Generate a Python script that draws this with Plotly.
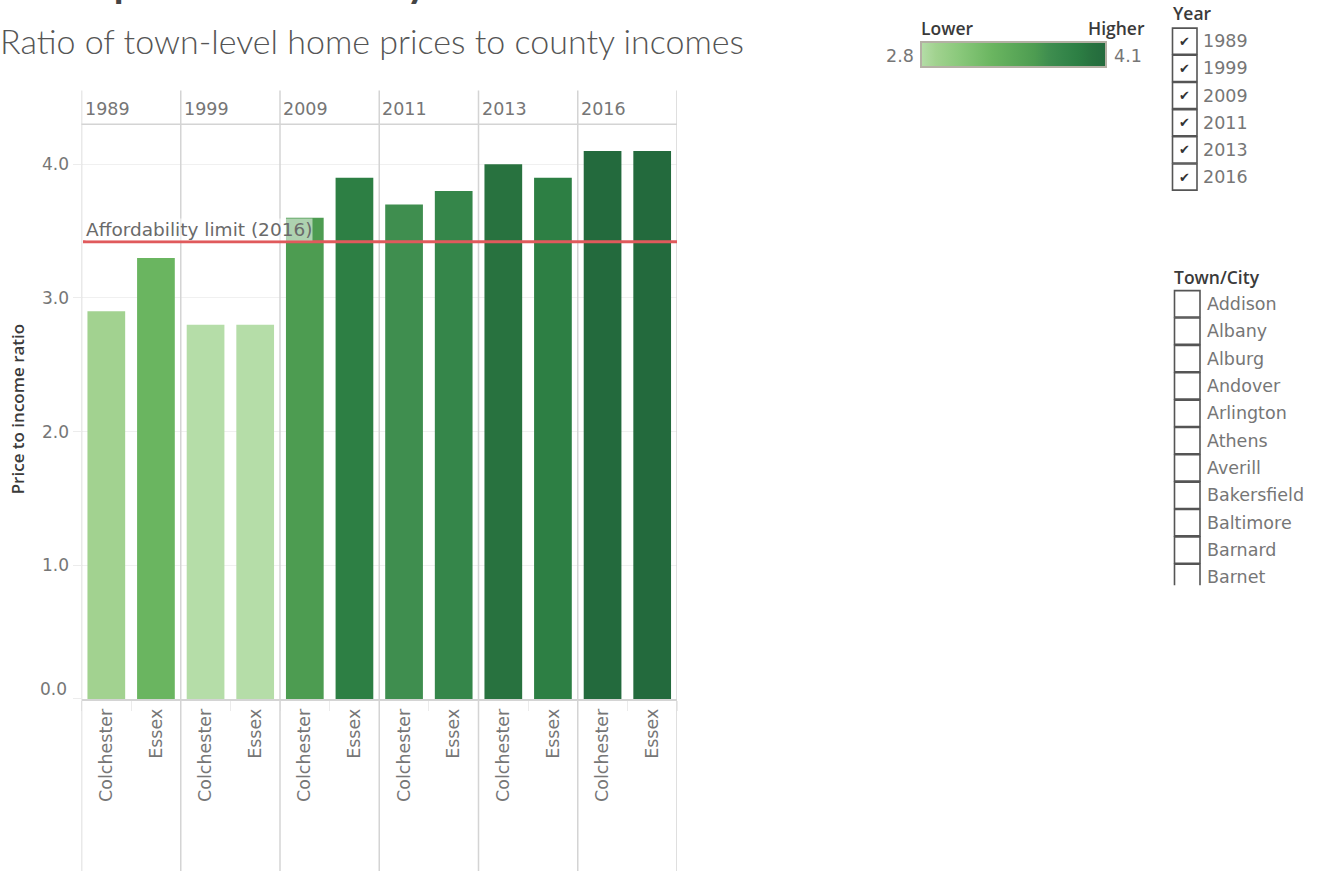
import plotly.graph_objects as go

# ---- data -------------------------------------------------------------
years = ["1989", "1999", "2009", "2011", "2013", "2016"]
towns = ["Colchester", "Essex"]
colchester_ratio = [2.9, 2.8, 3.6, 3.7, 4.0, 4.1]
essex_ratio = [3.3, 2.8, 3.9, 3.8, 3.9, 4.1]
affordability_limit = 3.42
color_min, color_max = 2.8, 4.1
y_ticks = [0.0, 1.0, 2.0, 3.0, 4.0]
town_list = ["Addison", "Albany", "Alburg", "Andover", "Arlington", "Athens",
             "Averill", "Bakersfield", "Baltimore", "Barnard", "Barnet"]

# ---- figure geometry helpers ------------------------------------------
W = 1318          # figure width in px
H_FIG = 876       # figure height in px
H_LAYOUT = 871    # height of the layout grid the positions below are given in


def fx(px):
    return px / W


def fy(py):
    return 1 - py / H_LAYOUT


BOOK = "DejaVu Sans"
BOLD = "Open Sans"
LIGHT = "Lato"
DARK = "#3a3a3a"
TXT = "#767676"
LINE = "#d4d4d4"

greens = [
    [0.00, "#b5dda8"],
    [0.08, "#a1d28f"],
    [0.20, "#8bc97c"],
    [0.385, "#6ab560"],
    [0.615, "#4d9c51"],
    [0.69, "#3f8e4f"],
    [0.77, "#35864a"],
    [0.846, "#2d7f44"],
    [0.923, "#28723f"],
    [1.00, "#236a3d"],
]

x_cats, values, labels = [], [], []
for i, yr in enumerate(years):
    for town, series in zip(towns, (colchester_ratio, essex_ratio)):
        x_cats.append(f"{yr}|{town}")
        values.append(series[i])
        labels.append(town)

fig = go.Figure(
    go.Bar(
        x=x_cats,
        y=values,
        marker=dict(
            color=values,
            colorscale=greens,
            cmin=color_min,
            cmax=color_max,
            line=dict(width=0),
            showscale=True,
            colorbar=dict(
                orientation="h",
                x=fx(1013.5), xanchor="center",
                y=fy(41.5), yanchor="top",
                len=185, lenmode="pixels",
                thickness=25.2, thicknessmode="pixels",
                outlinecolor="#b4b0a4", outlinewidth=2,
                showticklabels=False, ticks="",
                xpad=0, ypad=0,
            ),
        ),
        hoverinfo="x+y",
    )
)

x_dom = [fx(81.5), fx(677)]
y_dom = [fy(695), fy(123.5)]

fig.update_layout(
    width=W, height=H_FIG, autosize=False,
    margin=dict(l=0, r=0, t=0, b=0),
    paper_bgcolor="white", plot_bgcolor="white",
    showlegend=False,
    bargap=0.24,
    font=dict(family=BOOK, color=TXT),
    xaxis=dict(
        domain=x_dom,
        type="category",
        tickvals=x_cats, ticktext=labels,
        tickangle=-90,
        tickfont=dict(size=17.5, color=TXT, family=BOOK),
        showline=True, linecolor=LINE, linewidth=1.5,
        ticks="outside", tickson="boundaries", ticklen=10, tickcolor="#ebebeb",
        ticklabelstandoff=1,
        showgrid=False, zeroline=False,
        range=[-0.5, len(x_cats) - 0.5],
    ),
    yaxis=dict(
        domain=y_dom,
        range=[0, 4.3],
        tickvals=y_ticks,
        ticktext=["" if v == 0 else f"{v:.1f}" for v in y_ticks],
        tickfont=dict(size=17, color=TXT, family=BOOK),
        showgrid=True, gridcolor="#f0f0f0", gridwidth=1,
        ticks="outside", ticklen=8, tickcolor="#ececec",
        zeroline=False, showline=False,
    ),
)

shapes = []
annotations = []

# zero label sits just above the baseline
annotations.append(dict(text=f"{y_ticks[0]:.1f}", xref="paper", yref="y", x=fx(69),
                        xanchor="right", y=y_ticks[0], yanchor="middle", yshift=10,
                        showarrow=False, font=dict(size=17, color=TXT, family=BOOK)))

# panel dividers and header rule
for k in range(len(years) + 1):
    shapes.append(dict(type="line", xref="x", yref="paper",
                       x0=2 * k - 0.5, x1=2 * k - 0.5, y0=fy(90), y1=fy(H_LAYOUT + 12),
                       line=dict(color=LINE, width=1.5), layer="above"))
shapes.append(dict(type="line", xref="paper", yref="paper",
                   x0=fx(81.5), x1=fx(677), y0=fy(123.5), y1=fy(123.5),
                   line=dict(color=LINE, width=1.5)))

# year headers
for k, yr in enumerate(years):
    annotations.append(dict(text=yr, xref="x", yref="paper", x=2 * k - 0.5,
                            xanchor="left", xshift=1, y=fy(108), yanchor="middle",
                            showarrow=False, font=dict(size=17.5, color=TXT, family=BOOK)))

# affordability reference line
shapes.append(dict(type="line", xref="paper", yref="y",
                   x0=fx(83), x1=fx(677), y0=affordability_limit, y1=affordability_limit,
                   line=dict(color="#e05a5c", width=3), layer="above"))
annotations.append(dict(text="Affordability limit (2016)", xref="paper", yref="y",
                        x=fx(85), xanchor="left", y=affordability_limit, yanchor="bottom",
                        yshift=1, showarrow=False, bgcolor="rgba(255,255,255,0.55)",
                        borderpad=0, font=dict(size=18.5, color="#6a6a6a", family=BOOK)))

# axis title
annotations.append(dict(text="Price to income ratio", xref="paper", yref="paper",
                        x=fx(17), y=fy(407), xanchor="center", yanchor="middle",
                        textangle=-90, showarrow=False,
                        font=dict(size=17, color=DARK, family=BOLD, weight=600)))

# title and subtitle
annotations.append(dict(text="<b>Home price affordability</b>", xref="paper", yref="paper",
                        x=fx(-6), xanchor="left", y=fy(8), yanchor="bottom", showarrow=False,
                        font=dict(size=40, color="#444444", family=LIGHT)))
annotations.append(dict(text="Ratio of town-level home prices to county incomes",
                        xref="paper", yref="paper", x=fx(-2), xanchor="left",
                        y=fy(40), yanchor="middle", showarrow=False,
                        font=dict(size=34, color="#555555", family=LIGHT, weight=300)))

# colour legend labels
legend_font = dict(size=17.5, color=DARK, family=BOLD, weight=600)
annotations.append(dict(text="Lower", xref="paper", yref="paper", x=fx(919), xanchor="left",
                        y=fy(28), yanchor="middle", showarrow=False, font=legend_font))
annotations.append(dict(text="Higher", xref="paper", yref="paper", x=fx(1147), xanchor="right",
                        y=fy(28), yanchor="middle", showarrow=False, font=legend_font))
annotations.append(dict(text=f"{color_min:.1f}", xref="paper", yref="paper", x=fx(916),
                        xanchor="right", y=fy(56), yanchor="middle", showarrow=False,
                        font=dict(size=17.5, color=TXT, family=BOOK)))
annotations.append(dict(text=f"{color_max:.1f}", xref="paper", yref="paper", x=fx(1112),
                        xanchor="left", y=fy(56), yanchor="middle", showarrow=False,
                        font=dict(size=17.5, color=TXT, family=BOOK)))

# Year filter
annotations.append(dict(text="Year", xref="paper", yref="paper", x=fx(1171), xanchor="left",
                        y=fy(13), yanchor="middle", showarrow=False, font=legend_font))
row_h = 27
for i, yr in enumerate(years):
    top = 27.5 + row_h * i
    shapes.append(dict(type="rect", xref="paper", yref="paper",
                       x0=fx(1172.5), x1=fx(1197), y0=fy(top + 0.5), y1=fy(top + row_h - 0.5),
                       line=dict(color="#555555", width=1.6), fillcolor="white"))
    annotations.append(dict(text="✔", xref="paper", yref="paper", x=fx(1184.8),
                            xanchor="center", y=fy(top + row_h / 2), yanchor="middle",
                            showarrow=False, font=dict(size=13, color="#333333",
                                                       family="DejaVu Sans")))
    annotations.append(dict(text=yr, xref="paper", yref="paper", x=fx(1201), xanchor="left",
                            y=fy(top + row_h / 2), yanchor="middle", showarrow=False,
                            font=dict(size=17.5, color=TXT, family=BOOK)))

# Town/City filter
annotations.append(dict(text="Town/City", xref="paper", yref="paper", x=fx(1172),
                        xanchor="left", y=fy(275), yanchor="middle", showarrow=False,
                        font=legend_font))
list_bottom = 582
for i, town in enumerate(town_list):
    top = 288.5 + 27.2 * i
    bottom = min(top + 27.2 - 0.5, list_bottom)
    x0, x1 = 1174.5, 1200
    if bottom < top + 26:
        path = (f"M {fx(x0)} {fy(bottom)} L {fx(x0)} {fy(top + 0.5)} "
                f"L {fx(x1)} {fy(top + 0.5)} L {fx(x1)} {fy(bottom)}")
        shapes.append(dict(type="path", xref="paper", yref="paper", path=path,
                           line=dict(color="#555555", width=1.6)))
    else:
        shapes.append(dict(type="rect", xref="paper", yref="paper",
                           x0=fx(x0), x1=fx(x1), y0=fy(top + 0.5), y1=fy(bottom),
                           line=dict(color="#555555", width=1.6), fillcolor="white"))
    annotations.append(dict(text=town, xref="paper", yref="paper", x=fx(1205),
                            xanchor="left", y=fy(top + 13.6), yanchor="middle",
                            showarrow=False, font=dict(size=17.5, color=TXT, family=BOOK)))

fig.update_layout(shapes=shapes, annotations=annotations)
fig.write_html("out.html")
